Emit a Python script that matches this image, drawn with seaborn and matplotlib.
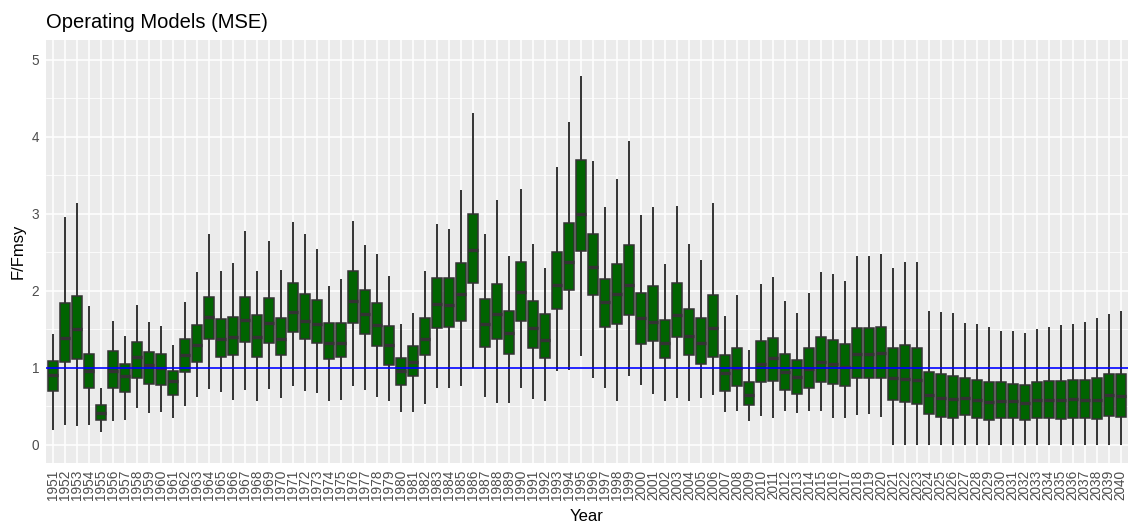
import numpy as np
import pandas as pd
import matplotlib
matplotlib.use("Agg")
import matplotlib.pyplot as plt
from matplotlib.ticker import MultipleLocator
import seaborn as sns

years = list(range(1951, 2041))

lo = [0.19, 0.25, 0.24, 0.26, 0.16, 0.31, 0.32, 0.47, 0.41, 0.42,
      0.35, 0.50, 0.62, 0.72, 0.68, 0.58, 0.71, 0.57, 0.72, 0.61,
      0.76, 0.70, 0.67, 0.57, 0.58, 0.76, 0.71, 0.62, 0.57, 0.42,
      0.42, 0.53, 0.73, 0.73, 0.76, 1.00, 0.62, 0.54, 0.54, 0.73,
      0.59, 0.57, 0.96, 0.97, 1.15, 0.87, 0.74, 0.57, 0.89, 0.77,
      0.66, 0.56, 0.61, 0.56, 0.61, 0.64, 0.42, 0.43, 0.31, 0.37,
      0.35, 0.43, 0.41, 0.43, 0.43, 0.35, 0.35, 0.38, 0.39, 0.36,
      0.00, 0.00, 0.00, 0.00, 0.00, 0.00, 0.00, 0.00, 0.00, 0.00,
      0.00, 0.00, 0.00, 0.00, 0.00, 0.00, 0.00, 0.00, 0.00, 0.00]
q1 = [0.70, 1.07, 1.11, 0.74, 0.32, 0.73, 0.68, 0.87, 0.79, 0.77,
      0.64, 0.94, 1.07, 1.37, 1.14, 1.16, 1.33, 1.14, 1.32, 1.16,
      1.46, 1.37, 1.32, 1.11, 1.14, 1.58, 1.43, 1.28, 1.03, 0.77,
      0.89, 1.16, 1.51, 1.53, 1.60, 2.10, 1.27, 1.37, 1.17, 1.61,
      1.25, 1.12, 1.76, 2.01, 2.51, 1.94, 1.52, 1.57, 1.68, 1.31,
      1.34, 1.12, 1.40, 1.16, 1.04, 1.14, 0.70, 0.76, 0.51, 0.81,
      0.83, 0.71, 0.65, 0.74, 0.81, 0.79, 0.76, 0.87, 0.87, 0.87,
      0.58, 0.55, 0.52, 0.40, 0.36, 0.34, 0.38, 0.35, 0.32, 0.35,
      0.34, 0.32, 0.35, 0.35, 0.33, 0.35, 0.34, 0.33, 0.37, 0.36]
med = [0.90, 1.38, 1.50, 0.95, 0.41, 0.96, 0.89, 1.14, 1.03, 1.00,
       0.83, 1.16, 1.29, 1.65, 1.37, 1.40, 1.62, 1.40, 1.58, 1.37,
       1.72, 1.61, 1.56, 1.32, 1.32, 1.86, 1.69, 1.55, 1.29, 0.95,
       1.07, 1.37, 1.83, 1.81, 1.96, 2.52, 1.57, 1.70, 1.45, 1.98,
       1.51, 1.36, 2.07, 2.37, 2.99, 2.30, 1.85, 1.96, 2.07, 1.64,
       1.59, 1.32, 1.68, 1.41, 1.32, 1.51, 0.93, 0.99, 0.64, 1.04,
       1.12, 0.94, 0.88, 0.98, 1.07, 1.05, 1.01, 1.17, 1.17, 1.19,
       0.86, 0.85, 0.84, 0.64, 0.61, 0.59, 0.60, 0.58, 0.55, 0.57,
       0.56, 0.54, 0.58, 0.58, 0.58, 0.59, 0.58, 0.58, 0.64, 0.63]
q3 = [1.08, 1.84, 1.93, 1.17, 0.51, 1.21, 1.04, 1.33, 1.20, 1.17,
      0.96, 1.37, 1.55, 1.92, 1.63, 1.66, 1.92, 1.68, 1.90, 1.64,
      2.10, 1.96, 1.88, 1.58, 1.58, 2.25, 2.01, 1.84, 1.54, 1.12,
      1.28, 1.64, 2.16, 2.16, 2.36, 2.99, 1.89, 2.09, 1.74, 2.37,
      1.87, 1.69, 2.50, 2.88, 3.69, 2.73, 2.15, 2.35, 2.59, 1.97,
      2.06, 1.62, 2.10, 1.76, 1.64, 1.94, 1.16, 1.25, 0.81, 1.35,
      1.38, 1.18, 1.10, 1.26, 1.39, 1.36, 1.31, 1.51, 1.51, 1.53,
      1.26, 1.29, 1.26, 0.94, 0.91, 0.89, 0.86, 0.84, 0.81, 0.81,
      0.79, 0.77, 0.81, 0.82, 0.82, 0.84, 0.84, 0.86, 0.91, 0.92]
hi = [1.43, 2.95, 3.14, 1.80, 0.74, 1.60, 1.41, 1.81, 1.59, 1.54,
      1.29, 1.85, 2.24, 2.74, 2.25, 2.36, 2.77, 2.26, 2.64, 2.27,
      2.89, 2.74, 2.54, 2.06, 2.15, 2.90, 2.59, 2.47, 2.19, 1.56,
      1.71, 2.25, 2.87, 2.80, 3.31, 4.31, 2.74, 3.17, 2.45, 3.32,
      2.61, 2.29, 3.60, 4.19, 4.78, 3.68, 3.09, 3.45, 3.94, 2.98,
      3.08, 2.35, 3.10, 2.61, 2.39, 3.14, 1.67, 1.94, 1.23, 2.09,
      2.17, 1.86, 1.71, 1.97, 2.24, 2.21, 2.12, 2.45, 2.45, 2.47,
      2.29, 2.37, 2.37, 1.73, 1.72, 1.71, 1.58, 1.56, 1.53, 1.48,
      1.47, 1.45, 1.50, 1.53, 1.55, 1.57, 1.59, 1.64, 1.70, 1.74]

year_labels = [str(y) for y in years]
ref_level = 1.0

# five-number summaries -> long table (percentiles of 5 points reproduce them)
rows = []
for lab, a, b, c, d, e in zip(year_labels, lo, q1, med, q3, hi):
    for v in (a, b, c, d, e):
        rows.append((lab, v))
df = pd.DataFrame(rows, columns=["Year", "F/Fmsy"])

sns.set_theme(style="darkgrid")
plt.rcParams["font.family"] = ["Liberation Sans", "DejaVu Sans"]

fig = plt.figure(figsize=(11.36, 5.27), dpi=100)
ax = fig.add_axes([46 / 1136, 1 - 463 / 527, (1128 - 46) / 1136, (463 - 39.5) / 527])
ax.set_facecolor("#EBEBEB")

sns.boxplot(data=df, x="Year", y="F/Fmsy", order=year_labels, whis=(0, 100),
            width=0.82, color="#006400", saturation=1, linecolor="#333333",
            linewidth=1.1, fliersize=0, showcaps=False,
            medianprops=dict(color="#333333", linewidth=2.4),
            whiskerprops=dict(color="#333333", linewidth=1.4),
            ax=ax)

ax.axhline(ref_level, color="blue", lw=1.2, zorder=3)

ax.set_xlim(-0.6, len(years) - 0.4)
ax.set_ylim(-0.24, 5.26)
ax.yaxis.set_major_locator(MultipleLocator(1))
ax.yaxis.set_minor_locator(MultipleLocator(0.5))
ax.set_axisbelow(True)
ax.grid(which="major", axis="both", color="white", lw=1.1)
ax.grid(which="minor", axis="y", color="white", lw=0.55)
for s in ax.spines.values():
    s.set_visible(False)

ax.tick_params(axis="both", which="major", length=3, width=0.8, color="#333333",
               labelcolor="#4D4D4D", labelsize=9.8, pad=2)
ax.tick_params(axis="y", which="minor", length=0)
ax.tick_params(axis="x", labelrotation=90)

ax.set_xlabel("Year", fontsize=12, color="black", labelpad=6)
ax.set_ylabel("F/Fmsy", fontsize=12, color="black", labelpad=4)
ax.set_title("Operating Models (MSE)", loc="left", fontsize=14.5, pad=8, color="black")

fig.savefig("out.png", dpi=100)
